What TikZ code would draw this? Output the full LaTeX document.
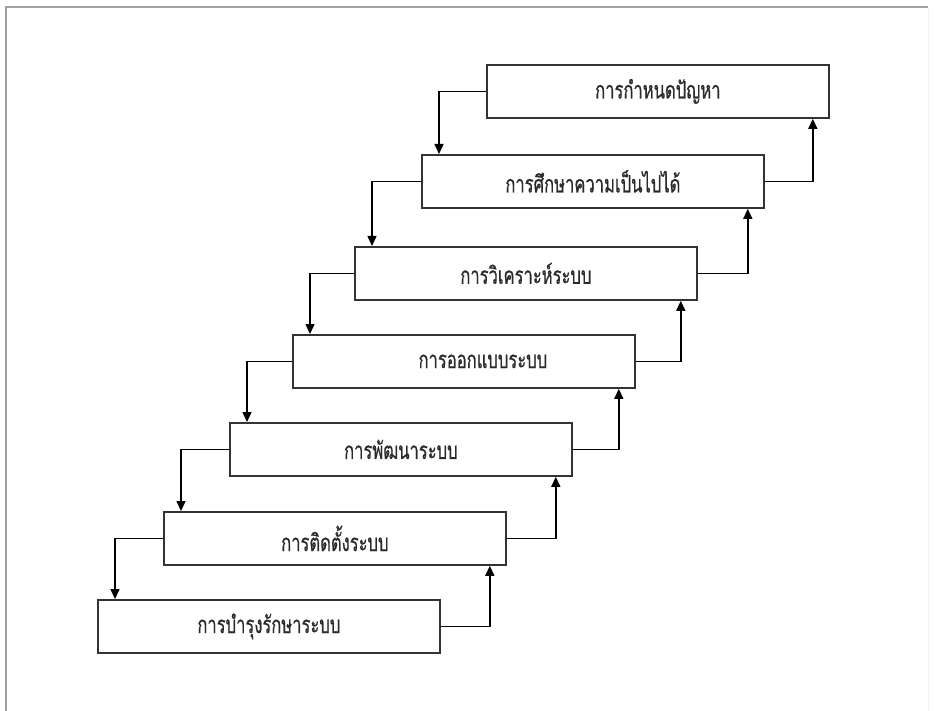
\documentclass[tikz,border=0pt]{standalone}
\usepackage{fontspec}
\newfontfamily\thaifont[Script=Thai,FakeStretch=0.69,FakeBold=0.6]{Loma}
\usetikzlibrary{arrows.meta}
\definecolor{boxline}{HTML}{333333}
\definecolor{frameline}{HTML}{A0A0A0}
\definecolor{textcol}{HTML}{2A2A2A}
\tikzset{
  stagebox/.style={draw=boxline, line width=1.8pt, fill=white, anchor=north west,
    minimum width=342pt, minimum height=53pt, inner sep=0pt,
    font=\thaifont\fontsize{24pt}{28pt}\selectfont, text=textcol},
  flow/.style={draw=black, line width=1.4pt, -{Triangle[length=10pt,width=9pt]}},
}
\begin{document}
\begin{tikzpicture}[x=1pt,y=-1pt]
\useasboundingbox (0,0) rectangle (934,711);
\fill[white] (0,0) rectangle (934,711);
\draw[frameline, line width=1.5pt] (6,711) -- (6,7) -- (928,7);
\draw[black!6, line width=0.8pt] (928,7) -- (928,711);

\node[stagebox] (b1) at (486,64)  {การกำหนดปัญหา};
\node[stagebox] (b2) at (421,154) {การศึกษาความเป็นไปได้};
\node[stagebox] (b3) at (354,246) {การวิเคราะห์ระบบ};
\node[stagebox] (b4) at (292,334) {\hspace*{38pt}การออกแบบระบบ};
\node[stagebox] (b5) at (229,422) {การพัฒนาระบบ};
\node[stagebox] (b6) at (163,511) {การติดตั้งระบบ};
\node[stagebox] (b7) at (97,599)  {การบำรุงรักษาระบบ};

\foreach \a/\b in {b1/b2,b2/b3,b3/b4,b4/b5,b5/b6,b6/b7}{
  \draw[flow] (\a.west) -| ([xshift=18pt]\b.north west);
  \draw[flow] (\b.east) -| ([xshift=-17pt]\a.south east);
}
\end{tikzpicture}
\end{document}
